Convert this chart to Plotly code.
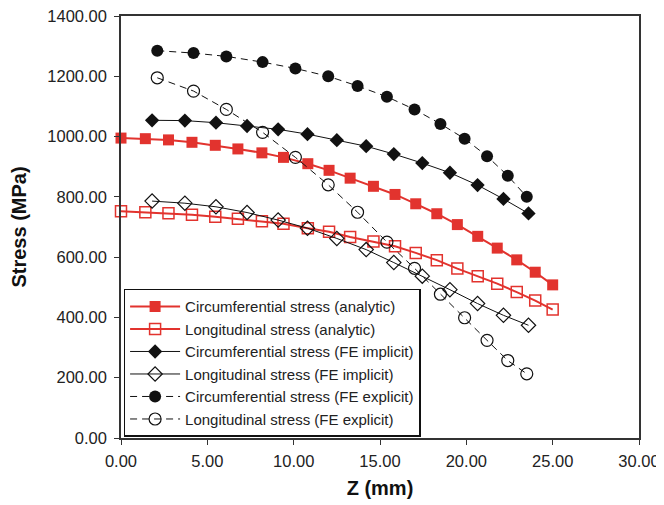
import plotly.graph_objects as go

# ---- data ----
z_analytic = [0.0, 1.41, 2.75, 4.11, 5.46, 6.77, 8.16, 9.41, 10.82, 12.05, 13.27,
              14.62, 15.87, 17.07, 18.29, 19.48, 20.66, 21.79, 22.92, 23.99, 25.0]
circ_analytic = [995, 993, 989, 981, 971, 959, 946, 931, 910, 888, 862,
                 835, 808, 777, 744, 708, 669, 630, 591, 550, 508]
long_analytic = [752, 749, 746, 741, 734, 727, 719, 711, 696, 684, 667,
                 652, 636, 614, 590, 562, 537, 512, 484, 456, 426]

z_implicit = [1.8, 3.7, 5.5, 7.3, 9.1, 10.8, 12.5, 14.2, 15.8, 17.45, 19.05, 20.65, 22.15, 23.6]
circ_implicit = [1054, 1053, 1046, 1035, 1024, 1008, 988, 968, 942, 912, 880, 839, 793, 745]
long_implicit = [786, 779, 767, 748, 723, 696, 662, 625, 582, 537, 492, 446, 407, 374]

z_explicit = [2.1, 4.2, 6.1, 8.2, 10.1, 12.0, 13.7, 15.4, 17.0, 18.5, 19.9, 21.2, 22.4, 23.5]
circ_explicit = [1285, 1277, 1266, 1247, 1226, 1200, 1168, 1132, 1090, 1042, 993, 935, 870, 800]
long_explicit = [1195, 1151, 1090, 1014, 931, 840, 749, 650, 563, 477, 399, 324, 257, 213]

x_ticks = [0, 5, 10, 15, 20, 25, 30]
y_ticks = [0, 200, 400, 600, 800, 1000, 1200, 1400]

RED = "#E2332E"
BLACK = "#111111"
FONT = "Arial, Liberation Sans, sans-serif"

fig = go.Figure()

fig.add_trace(go.Scatter(
    x=z_analytic, y=circ_analytic, mode="lines+markers",
    name="Circumferential stress (analytic)",
    line=dict(color=RED, width=2),
    marker=dict(symbol="square", size=11, color=RED, line=dict(width=0)),
    cliponaxis=False))
fig.add_trace(go.Scatter(
    x=z_analytic, y=long_analytic, mode="lines+markers",
    name="Longitudinal stress (analytic)",
    line=dict(color=RED, width=2),
    marker=dict(symbol="square-open", size=11, color=RED, line=dict(width=1.5, color=RED)),
    cliponaxis=False))
fig.add_trace(go.Scatter(
    x=z_implicit, y=circ_implicit, mode="lines+markers",
    name="Circumferential stress (FE implicit)",
    line=dict(color=BLACK, width=1),
    marker=dict(symbol="diamond", size=11, color=BLACK),
    cliponaxis=False))
fig.add_trace(go.Scatter(
    x=z_implicit, y=long_implicit, mode="lines+markers",
    name="Longitudinal stress (FE implicit)",
    line=dict(color=BLACK, width=1),
    marker=dict(symbol="diamond-open", size=11, color=BLACK, line=dict(width=1.2, color=BLACK)),
    cliponaxis=False))
fig.add_trace(go.Scatter(
    x=z_explicit, y=circ_explicit, mode="lines+markers",
    name="Circumferential stress (FE explicit)",
    line=dict(color=BLACK, width=1, dash="7px,5px"),
    marker=dict(symbol="circle", size=12, color=BLACK),
    cliponaxis=False))
fig.add_trace(go.Scatter(
    x=z_explicit, y=long_explicit, mode="lines+markers",
    name="Longitudinal stress (FE explicit)",
    line=dict(color=BLACK, width=1, dash="7px,5px"),
    marker=dict(symbol="circle-open", size=12, color=BLACK, line=dict(width=1.2, color=BLACK)),
    cliponaxis=False))

axis_common = dict(
    showgrid=False, zeroline=False, showline=True, linecolor="#333333", linewidth=1.5,
    mirror=True, ticks="outside", ticklen=5, tickcolor="#333333", tickwidth=1.2,
    tickfont=dict(family=FONT, size=16.5, color="#222222"), automargin=False,
    ticklabeloverflow="allow",
)

# page has an 8px body margin, so the figure is sized to fit the 664x505 window
fig.update_layout(
    width=656, height=497,
    margin=dict(l=113, r=25, t=8, b=67),
    paper_bgcolor="white", plot_bgcolor="white",
    font=dict(family=FONT, color="#222222"),
    xaxis=dict(range=[0, 30], tickvals=x_ticks, ticktext=[f"{v:.2f}" for v in x_ticks],
               ticklabelstandoff=2,
               title=dict(text="<b>Z (mm)</b>", font=dict(family=FONT, size=20, color="#111111"), standoff=12),
               **axis_common),
    yaxis=dict(range=[0, 1400], tickvals=y_ticks, ticktext=[f"{v:.2f}" for v in y_ticks],
               ticklabelstandoff=4,
               title=dict(text="<b>Stress (MPa)</b>", font=dict(family=FONT, size=20, color="#111111"), standoff=20),
               **axis_common),
    legend=dict(x=0.005, y=0.003, xanchor="left", yanchor="bottom",
                bgcolor="white", bordercolor="#111111", borderwidth=1.5,
                font=dict(family=FONT, size=15, color="#222222"),
                itemwidth=50, tracegroupgap=0),
    showlegend=True,
)

fig.write_html("out.html")
